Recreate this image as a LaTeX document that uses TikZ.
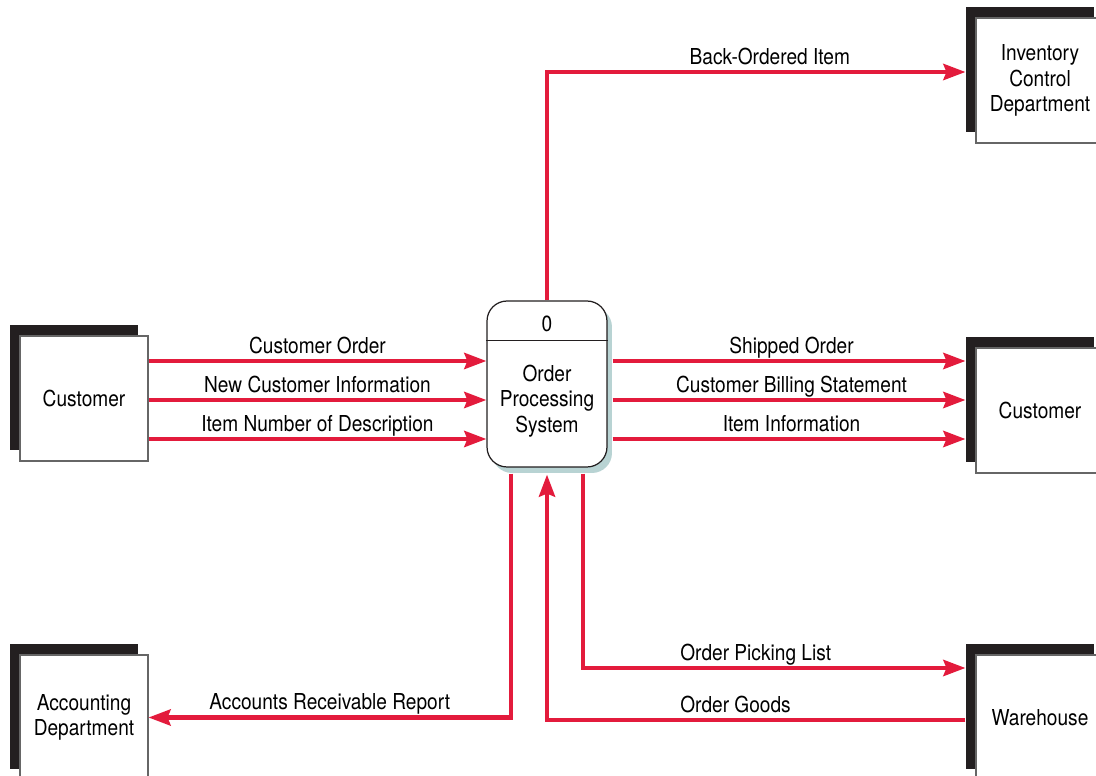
\documentclass[tikz,border=0pt]{standalone}
\usepackage{fontspec}
\setmainfont{TeX Gyre Heros}[FakeStretch=0.87]
\usetikzlibrary{arrows.meta, positioning, calc, shadows}

\definecolor{flowred}{HTML}{E31B3C}
\definecolor{inkblack}{HTML}{231F20}
\definecolor{shadeteal}{HTML}{B8D3D3}

\tikzset{
  entity/.style={draw=gray!80!black, line width=0.6pt, fill=white,
                 minimum width=2.56cm, minimum height=2.5cm, inner sep=0pt, align=center,
                 drop shadow={shadow xshift=-0.2cm, shadow yshift=0.22cm, fill=inkblack, opacity=1}},
  process/.style={draw=inkblack, line width=0.7pt, fill=white, rounded corners=0.4cm,
                  minimum width=2.4cm, minimum height=3.32cm,
                  drop shadow={shadow xshift=0.1cm, shadow yshift=-0.12cm, fill=shadeteal, opacity=1}},
  flow/.style={draw=flowred, line width=2.5pt, -{Stealth[length=0.44cm, width=0.32cm, inset=0.06cm]}},
  flowlabel/.style={above, inner sep=0.6pt, text depth=2.5pt}
}

\begin{document}
\begin{tikzpicture}[x=0.02cm, y=-0.02cm, font=\fontsize{12.5}{14.6}\selectfont]
  \useasboundingbox (0,0) rectangle (1096,776);

  % external entities
  \node[entity] (custL) at (84,398.5) {Customer};
  \node[entity] (inv) at (1040,80.5) {Inventory\\Control\\Department};
  \node[entity] (custR) at (1040,410.5) {Customer};
  \node[entity] (acc) at (84,717.5) {Accounting\\Department};
  \node[entity] (wh) at (1040,717.5) {Warehouse};

  % process 0
  \node[process] (proc) at (547,384) {};
  \node (pnum) at (547,324) {0};
  \node[align=center] (ptext) at (547,401) {Order\\Processing\\System};
  \draw[inkblack, line width=0.7pt] ($(proc.north west)+(0,40)$) -- ($(proc.north east)+(0,40)$);

  % inputs from customer
  \draw[flow] (custL.east |- 0,361) -- node[flowlabel] {Customer Order} (proc.west |- 0,361);
  \draw[flow] (custL.east |- 0,400) -- node[flowlabel] {New Customer Information} (proc.west |- 0,400);
  \draw[flow] (custL.east |- 0,439) -- node[flowlabel] {Item Number of Description} (proc.west |- 0,439);

  % outputs to customer
  \draw[flow, shorten <=0.1cm, shorten >=0.2cm] (proc.east |- 0,361) -- node[flowlabel] {Shipped Order} (custR.west |- 0,361);
  \draw[flow, shorten <=0.1cm, shorten >=0.2cm] (proc.east |- 0,400) -- node[flowlabel] {Customer Billing Statement} (custR.west |- 0,400);
  \draw[flow, shorten <=0.1cm, shorten >=0.2cm] (proc.east |- 0,439) -- node[flowlabel] {Item Information} (custR.west |- 0,439);

  % other flows
  \draw[flow, shorten >=0.2cm] (proc.north) |- node[flowlabel, pos=0.76] {Back-Ordered Item} (inv.west |- 0,72);
  \draw[flow, shorten <=0.12cm, shorten >=0.2cm] ($(proc.south)+(36,0)$) |- node[flowlabel, pos=0.72] {Order Picking List} (wh.west |- 0,668);
  \draw[flow, shorten <=0.2cm, shorten >=0.14cm] (wh.west |- 0,720) -| node[flowlabel, pos=0.28] {Order Goods} (proc.south);
  \draw[flow, shorten <=0.12cm] ($(proc.south)+(-36,0)$) |- node[flowlabel, pos=0.75] {Accounts Receivable Report} (acc.east);
\end{tikzpicture}
\end{document}
